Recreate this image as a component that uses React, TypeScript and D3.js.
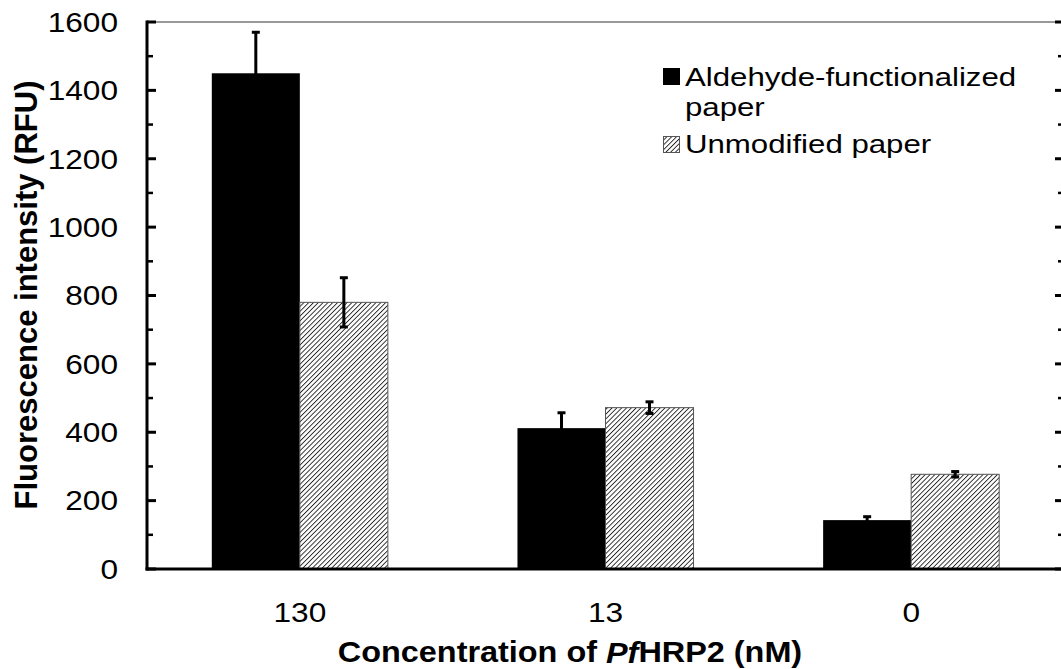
import React from "react";
import * as d3 from "d3";

const categories = ["130", "13", "0"];
const seriesNames = ["Aldehyde-functionalized paper", "Unmodified paper"];
const aldehydeValues = [1450, 412, 143];
const aldehydeErrors = [120, 45, 10];
const unmodifiedValues = [780, 472, 277];
const unmodifiedErrors = [72, 17, 8];
const yTicks = [0, 200, 400, 600, 800, 1000, 1200, 1400, 1600];
const yMinorTicks = [100, 300, 500, 700, 900, 1100, 1300, 1500];

export default function App() {
  const width = 1061;
  const height = 669;
  const left = 147;
  const right = 1064;
  const top = 22;
  const bottom = 569;

  const x = d3.scaleBand<string>().domain(categories).range([left, right]);
  const groupWidth = x.bandwidth() * 0.576;
  const x1 = d3
    .scaleBand<string>()
    .domain(seriesNames)
    .range([-groupWidth / 2, groupWidth / 2]);
  const y = d3.scaleLinear().domain([0, 1600]).range([bottom, top]);

  const series = [
    { name: seriesNames[0], values: aldehydeValues, errors: aldehydeErrors, fill: "#000" },
    { name: seriesNames[1], values: unmodifiedValues, errors: unmodifiedErrors, fill: "url(#hatch)" },
  ];

  const font = "'Liberation Sans', Arial, sans-serif";
  // the reference text is a little wider than plain Arial
  const tickStretch = 1.13;
  const legendStretch = 1.2;

  return (
    <svg
      width={width}
      height={height}
      style={{ position: "absolute", left: 0, top: 0, background: "#fff" }}
      fontFamily={font}
    >
      <defs>
        <pattern
          id="hatch"
          patternUnits="userSpaceOnUse"
          width={3.4}
          height={3.4}
          patternTransform="rotate(45)"
        >
          <rect width={3.4} height={3.4} fill="#fff" />
          <line x1={0} y1={0} x2={0} y2={3.4} stroke="#222" strokeWidth={1.8} />
        </pattern>
      </defs>

      {/* top border */}
      <line x1={left} x2={right} y1={top} y2={top} stroke="#999" strokeWidth={2} />

      {/* bars */}
      {series.map((s) =>
        categories.map((c, i) => {
          const bx = (x(c) as number) + x.bandwidth() / 2 + (x1(s.name) as number);
          const v = s.values[i];
          return (
            <rect
              key={s.name + c}
              x={bx}
              y={y(v)}
              width={x1.bandwidth()}
              height={y(0) - y(v)}
              fill={s.fill}
              stroke={s.fill === "#000" ? "none" : "#555"}
              strokeWidth={1}
            />
          );
        })
      )}

      {/* error bars */}
      {series.map((s) =>
        categories.map((c, i) => {
          const cx = (x(c) as number) + x.bandwidth() / 2 + (x1(s.name) as number) + x1.bandwidth() / 2;
          const v = s.values[i];
          const e = s.errors[i];
          return (
            <g key={"err" + s.name + c} stroke="#000">
              <line x1={cx} x2={cx} y1={y(v + e)} y2={y(v - e)} strokeWidth={3} />
              <line x1={cx - 4} x2={cx + 4} y1={y(v + e)} y2={y(v + e)} strokeWidth={3} />
              <line x1={cx - 4} x2={cx + 4} y1={y(v - e)} y2={y(v - e)} strokeWidth={3} />
            </g>
          );
        })
      )}

      {/* left and right axes */}
      <line x1={left} x2={left} y1={top - 1.5} y2={bottom + 1.5} stroke="#000" strokeWidth={3} />
      <line x1={right} x2={right} y1={top} y2={bottom} stroke="#000" strokeWidth={3} />
      {yTicks.map((t) => (
        <g key={"yt" + t}>
          <line x1={left} x2={left + 9} y1={y(t)} y2={y(t)} stroke="#000" strokeWidth={3} />
          <line x1={right} x2={right - 9} y1={y(t)} y2={y(t)} stroke="#000" strokeWidth={3} />
          <text
            transform={`translate(118,${y(t)}) scale(${tickStretch},1)`}
            textAnchor="end"
            dominantBaseline="central"
            fontSize={28}
            fill="#000"
          >
            {t}
          </text>
        </g>
      ))}
      {yMinorTicks.map((t) => (
        <g key={"ym" + t}>
          <line x1={left} x2={left + 6} y1={y(t)} y2={y(t)} stroke="#000" strokeWidth={2.5} />
          <line x1={right} x2={right - 6} y1={y(t)} y2={y(t)} stroke="#000" strokeWidth={2.5} />
        </g>
      ))}

      {/* bottom axis */}
      <line x1={left - 1.5} x2={right} y1={bottom} y2={bottom} stroke="#000" strokeWidth={3} />
      {categories.map((c) => (
        <text
          key={"xt" + c}
          transform={`translate(${(x(c) as number) + x.bandwidth() / 2},612) scale(${tickStretch},1)`}
          textAnchor="middle"
          dominantBaseline="central"
          fontSize={28}
          fill="#000"
        >
          {c}
        </text>
      ))}

      {/* axis titles */}
      <text
        transform="translate(570,652) scale(1.08,1)"
        textAnchor="middle"
        dominantBaseline="central"
        fontSize={30}
        fontWeight="bold"
      >
        Concentration of <tspan fontStyle="italic">Pf</tspan>HRP2 (nM)
      </text>
      <text
        transform={`translate(26,${(77 + 513) / 2}) rotate(-90)`}
        textAnchor="middle"
        dominantBaseline="central"
        fontSize={31}
        fontWeight="bold"
      >
        Fluorescence intensity (RFU)
      </text>

      {/* legend */}
      <rect x={663} y={68} width={17} height={17} fill="#000" />
      <text transform={`translate(685,77) scale(${legendStretch},1)`} dominantBaseline="central" fontSize={26}>
        Aldehyde-functionalized
      </text>
      <text transform={`translate(685,107) scale(${legendStretch},1)`} dominantBaseline="central" fontSize={26}>
        paper
      </text>
      <rect x={663.5} y={136.5} width={16} height={16} fill="url(#hatch)" stroke="#555" strokeWidth={1} />
      <text transform={`translate(685,144) scale(${legendStretch},1)`} dominantBaseline="central" fontSize={26}>
        Unmodified paper
      </text>
    </svg>
  );
}
